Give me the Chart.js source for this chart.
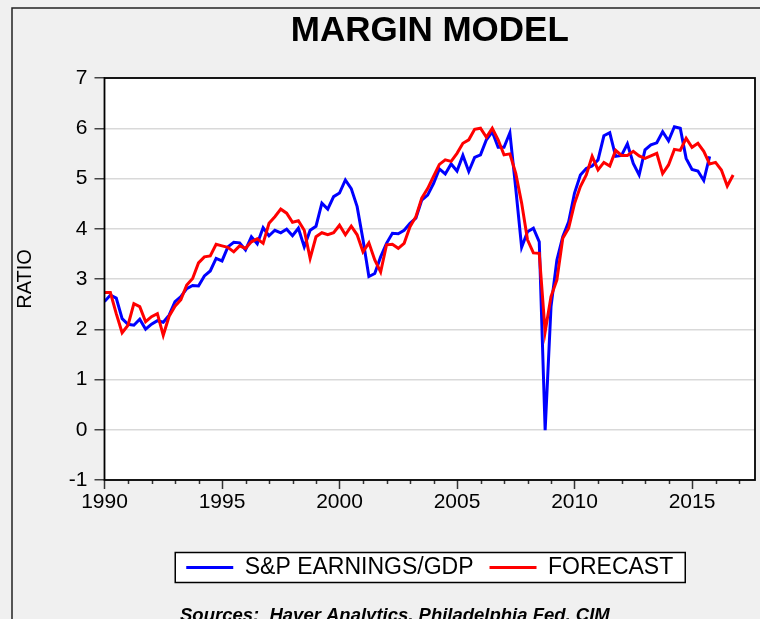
<!DOCTYPE html>
<html>
<head>
<meta charset="utf-8">
<title>Margin Model</title>
<script src="https://cdn.jsdelivr.net/npm/chart.js@4.4.1/dist/chart.umd.min.js"></script>
<style>
  html, body { margin: 0; padding: 0; background: #f0f0f0; overflow: hidden; }
</style>
</head>
<body>
<canvas id="marginChart" width="760" height="619"></canvas>
<script>
// quarterly, first value = 1990 Q1
const startYear = 1990;

const earnings = [
  2.55, 2.68, 2.62, 2.21,   // 1990
  2.10, 2.08, 2.20, 2.00,
  2.10, 2.17, 2.14, 2.28,
  2.55, 2.65, 2.81, 2.87,
  2.86, 3.06, 3.16, 3.41,
  3.36, 3.64, 3.73, 3.72,   // 1995
  3.58, 3.84, 3.70, 4.02,
  3.86, 3.97, 3.92, 3.99,
  3.86, 4.01, 3.64, 3.97,
  4.05, 4.51, 4.39, 4.64,
  4.71, 4.97, 4.80, 4.44,   // 2000
  3.78, 3.05, 3.11, 3.44,
  3.71, 3.91, 3.90, 3.97,
  4.11, 4.21, 4.57, 4.67,
  4.90, 5.19, 5.09, 5.29,
  5.15, 5.46, 5.14, 5.42,   // 2005
  5.47, 5.77, 5.93, 5.62,
  5.62, 5.91, 4.80, 3.63,
  3.94, 4.01, 3.74, -0.01,
  2.45, 3.38, 3.84, 4.14,
  4.71, 5.07, 5.20, 5.25,   // 2010
  5.37, 5.85, 5.91, 5.44,
  5.46, 5.69, 5.30, 5.07,
  5.57, 5.67, 5.71, 5.93,
  5.75, 6.03, 6.00, 5.40,
  5.18, 5.15, 4.96, 5.44    // 2015
];

const forecast = [
  2.73, 2.73, 2.31, 1.93,   // 1990
  2.08, 2.51, 2.45, 2.15,
  2.25, 2.31, 1.88, 2.26,
  2.46, 2.59, 2.88, 3.01,
  3.32, 3.44, 3.46, 3.69,
  3.66, 3.63, 3.54, 3.66,   // 1995
  3.61, 3.74, 3.80, 3.71,
  4.11, 4.24, 4.39, 4.31,
  4.13, 4.16, 3.97, 3.41,
  3.84, 3.92, 3.88, 3.92,
  4.07, 3.88, 4.05, 3.88,   // 2000
  3.54, 3.72, 3.38, 3.14,
  3.68, 3.69, 3.61, 3.71,
  4.04, 4.24, 4.61, 4.80,
  5.04, 5.28, 5.37, 5.34,
  5.50, 5.70, 5.77, 5.98,   // 2005
  6.00, 5.82, 6.00, 5.77,
  5.47, 5.49, 5.10, 4.51,
  3.78, 3.52, 3.51, 1.95,
  2.65, 2.98, 3.81, 4.01,
  4.50, 4.84, 5.07, 5.44,   // 2010
  5.17, 5.32, 5.25, 5.56,
  5.46, 5.46, 5.54, 5.45,
  5.40, 5.45, 5.50, 5.10,
  5.27, 5.58, 5.56, 5.80,
  5.62, 5.70, 5.54, 5.29,   // 2015
  5.32, 5.17, 4.85, 5.07
];

const majorYears = [1990, 1995, 2000, 2005, 2010, 2015];
const minorYears = [1991, 1992, 1993, 1994, 1996, 1997, 1998, 1999, 2001, 2002, 2003, 2004,
                    2006, 2007, 2008, 2009, 2011, 2012, 2013, 2014, 2016, 2017];
const seriesNames = ["S&P EARNINGS/GDP", "FORECAST"];
const sourceNote = "Sources:  Haver Analytics, Philadelphia Fed, CIM";

const FONT = "'Liberation Sans', Arial, sans-serif";

const toPoints = (values) => values.map((v, i) => ({ x: startYear + i / 4, y: v }));

const framePlugin = {
  id: "frame",
  beforeDraw(chart) {
    const { ctx, chartArea: a } = chart;
    ctx.save();
    ctx.fillStyle = "#f0f0f0";
    ctx.fillRect(0, 0, chart.width, chart.height);
    ctx.strokeStyle = "#222";
    ctx.lineWidth = 1.5;
    ctx.strokeRect(12, 8, chart.width + 20, chart.height + 20);

    ctx.fillStyle = "#fff";
    ctx.fillRect(a.left, a.top, a.right - a.left, a.bottom - a.top);

    // box round the legend
    const hb = chart.legend.legendHitBoxes;
    if (hb && hb.length) {
      const last = hb[hb.length - 1];
      const left = hb[0].left - 11;
      const right = last.left + last.width + 12;
      const cy = hb[0].top + hb[0].height / 2;
      ctx.fillRect(left, cy - 15, right - left, 30);
      ctx.strokeStyle = "#000";
      ctx.lineWidth = 1.5;
      ctx.strokeRect(left, cy - 15, right - left, 30);
    }
    ctx.restore();
  },
  afterDraw(chart) {
    const { ctx, chartArea: a } = chart;
    const xs = chart.scales.x;
    ctx.save();
    // short yearly ticks
    ctx.strokeStyle = "#333";
    ctx.lineWidth = 1.5;
    minorYears.forEach((yr) => {
      const px = Math.round(xs.getPixelForValue(yr)) + 0.5;
      ctx.beginPath();
      ctx.moveTo(px, a.bottom);
      ctx.lineTo(px, a.bottom + 4);
      ctx.stroke();
    });
    // plot border
    ctx.strokeStyle = "#000";
    ctx.lineWidth = 1.8;
    ctx.strokeRect(a.left, a.top, a.right - a.left, a.bottom - a.top);
    // sources line, cut by the bottom edge as in the original
    ctx.fillStyle = "#000";
    ctx.font = "italic bold 18.5px " + FONT;
    ctx.textBaseline = "alphabetic";
    ctx.textAlign = "left";
    ctx.fillText(sourceNote, 180, 621);
    ctx.restore();
  }
};

const ctx = document.getElementById("marginChart").getContext("2d");
const chart = new Chart(ctx, {
  type: "line",
  data: {
    datasets: [
      {
        label: seriesNames[0],
        data: toPoints(earnings),
        borderColor: "#0000ff",
        backgroundColor: "#0000ff",
        borderWidth: 3,
        pointRadius: 0,
        tension: 0,
        order: 1
      },
      {
        label: seriesNames[1],
        data: toPoints(forecast),
        borderColor: "#ff0000",
        backgroundColor: "#ff0000",
        borderWidth: 3,
        pointRadius: 0,
        tension: 0,
        order: 0
      }
    ]
  },
  options: {
    responsive: false,
    animation: false,
    events: [],
    layout: { padding: { left: 0, right: 5, top: 0, bottom: 30 } },
    plugins: {
      title: {
        display: true,
        text: "MARGIN MODEL",
        fullSize: false,
        color: "#000",
        font: { family: FONT, size: 35, weight: "bold" },
        padding: { top: 10.5, bottom: 25.5 }
      },
      legend: {
        position: "bottom",
        fullSize: false,
        reverse: true,
        labels: {
          usePointStyle: true,
          pointStyle: "line",
          pointStyleWidth: 47,
          color: "#000",
          padding: 16,
          font: { family: FONT, size: 23 }
        }
      },
      tooltip: { enabled: false }
    },
    scales: {
      x: {
        type: "linear",
        min: 1990,
        max: 2017.68,
        afterBuildTicks: (scale) => {
          scale.ticks = majorYears.map((v) => ({ value: v }));
        },
        afterFit: (scale) => { scale.height = 60; },
        grid: {
          drawOnChartArea: false,
          tickLength: 9,
          tickColor: "#333",
          tickWidth: 1.5
        },
        border: { display: false },
        ticks: {
          autoSkip: false,
          maxRotation: 0,
          padding: 1,
          color: "#000",
          font: { family: FONT, size: 21 },
          callback: (v) => String(v)
        }
      },
      y: {
        min: -1,
        max: 7,
        afterFit: (scale) => { scale.width = 104.5; },
        grid: {
          color: "#d9d9d9",
          lineWidth: 1.5,
          tickLength: 10,
          tickColor: "#444",
          tickWidth: 1.5
        },
        border: { display: false },
        ticks: {
          stepSize: 1,
          padding: 7,
          color: "#000",
          font: { family: FONT, size: 21 }
        },
        title: {
          display: true,
          text: "RATIO",
          color: "#000",
          font: { family: FONT, size: 20 },
          padding: { top: 13, bottom: 0 }
        }
      }
    }
  },
  plugins: [framePlugin]
});
</script>
</body>
</html>
